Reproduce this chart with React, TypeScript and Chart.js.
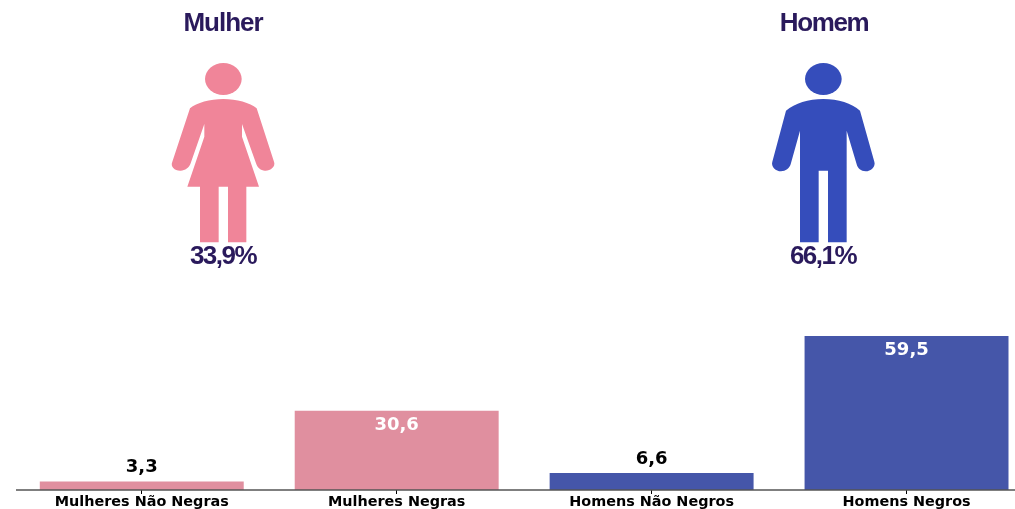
import React, { useEffect, useRef } from "react";
import { Chart, registerables } from "chart.js";

Chart.register(...registerables);

const categories = ["Mulheres Não Negras", "Mulheres Negras", "Homens Não Negros", "Homens Negros"];
const values = [3.3, 30.6, 6.6, 59.5];
const groups = ["Mulher", "Homem"];
const groupShares = [33.9, 66.1];

const PINK_BAR = "#e08f9f";
const BLUE_BAR = "#4556a9";
const PINK_ICON = "#f08599";
const BLUE_ICON = "#354dbb";
const INK = "#2a1a5c";
const barColors = [PINK_BAR, PINK_BAR, BLUE_BAR, BLUE_BAR];
const labelColors = ["#000000", "#ffffff", "#000000", "#ffffff"];
const labelInside = [false, true, false, true];
const titleSpacing = ["-1px", "-1.4px"];

const WOMAN =
  "M220 297C260 297 300 308 320 325L372 485C378 500 360 513 345 512C332 512 322 503 318 490L276 372L276 410L327 560L289 560L289 727L234 727L234 560L206 560L206 727L150 727L150 560L112 560L163 410L163 372L122 490C118 503 105 512 92 512C75 513 60 500 67 485L120 325C140 308 180 297 220 297Z";
const MAN =
  "M220 297C265 297 305 310 330 332L373 485C378 500 362 514 347 514C333 514 323 505 320 493L290 392L290 727L234 727L234 512L206 512L206 727L150 727L150 392L122 493C118 505 107 514 93 514C78 514 62 500 67 485L108 332C135 310 175 297 220 297Z";

const decor = {
  id: "decor",
  afterDatasetsDraw(chart: any) {
    const { ctx, scales } = chart;
    const meta = chart.getDatasetMeta(0);
    ctx.save();
    // baseline
    const y0 = scales.y.getPixelForValue(0);
    ctx.strokeStyle = "#555555";
    ctx.lineWidth = 1.5;
    ctx.beginPath();
    ctx.moveTo(16, y0);
    ctx.lineTo(1015, y0);
    ctx.stroke();
    // value labels
    ctx.textAlign = "center";
    ctx.textBaseline = "middle";
    ctx.font = "bold 18px 'DejaVu Sans'";
    values.forEach((v, i) => {
      const el = meta.data[i];
      ctx.fillStyle = labelColors[i];
      ctx.fillText(v.toFixed(1).replace(".", ","), el.x, labelInside[i] ? el.y + 14.5 : el.y - 14);
    });
    // pictograms
    const xs = [150, 750];
    const cols = [PINK_ICON, BLUE_ICON];
    const paths = [WOMAN, MAN];
    xs.forEach((x, i) => {
      ctx.save();
      ctx.translate(x, 0);
      ctx.scale(1 / 3, 1 / 3);
      ctx.fillStyle = cols[i];
      ctx.beginPath();
      ctx.ellipse(220, 237, 55, 48, 0, 0, Math.PI * 2);
      ctx.fill();
      ctx.fill(new Path2D(paths[i]));
      ctx.restore();
      const cx = x + 73.5;
      ctx.fillStyle = INK;
      ctx.font = "bold 26px 'Liberation Sans'";
      (ctx as any).letterSpacing = titleSpacing[i];
      ctx.fillText(groups[i], cx - 0.5 + i, 24);
      ctx.font = "bold 26px 'Liberation Sans'";
      (ctx as any).letterSpacing = "-1.5px";
      ctx.fillText(groupShares[i].toFixed(1).replace(".", ",") + "%", cx - 0.5, 257);
      (ctx as any).letterSpacing = "0px";
    });
    ctx.restore();
  },
};

export default function App() {
  const ref = useRef<HTMLCanvasElement>(null);
  useEffect(() => {
    const chart = new Chart(ref.current!, {
      type: "bar",
      data: {
        labels: categories,
        datasets: [
          {
            data: values,
            backgroundColor: barColors,
            categoryPercentage: 1,
            barPercentage: 0.8,
          },
        ],
      },
      options: {
        animation: false,
        responsive: false,
        layout: { padding: { left: 14.3, right: 0, top: 314, bottom: 0 } },
        plugins: { legend: { display: false }, tooltip: { enabled: false } },
        scales: {
          x: {
            offset: true,
            border: { display: false },
            grid: { drawOnChartArea: false, tickLength: 4, tickColor: "#000000", offset: false },
            ticks: {
              color: "#000000",
              maxRotation: 0,
              autoSkip: false,
              padding: 0,
              font: { family: "'DejaVu Sans'", weight: "bold", size: 14.4 },
            },
            afterFit(scale: any) {
              scale.height = 19;
            },
          },
          y: { display: false, min: 0, max: 68 },
        },
      },
      plugins: [decor],
    } as any);
    return () => chart.destroy();
  }, []);
  return (
    <div style={{ position: "fixed", left: 0, top: 0, width: 1015, height: 509, overflow: "hidden", background: "#fff" }}>
      <canvas ref={ref} width={1034} height={509} style={{ display: "block" }} />
    </div>
  );
}
